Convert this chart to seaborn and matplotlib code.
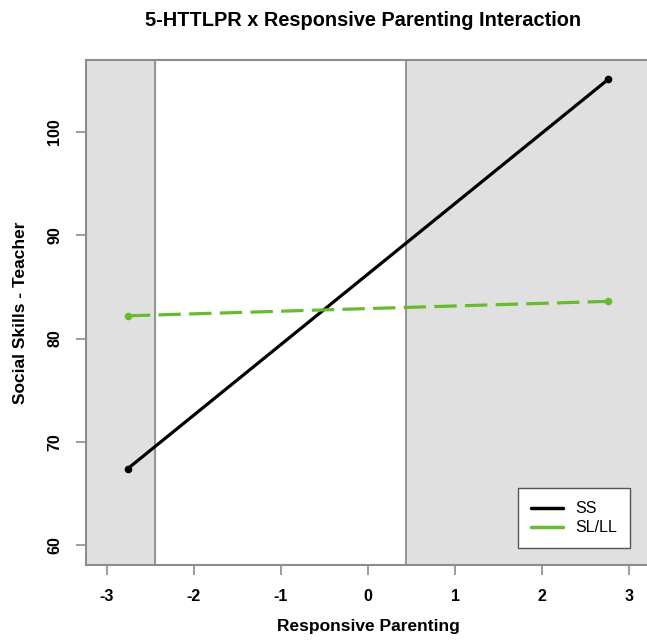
import pandas as pd
import matplotlib
matplotlib.use("Agg")
import matplotlib.pyplot as plt
import seaborn as sns
from matplotlib.lines import Line2D

# Dados
parenting = [-2.76, 2.76]
ss_vals = [67.4, 105.1]
sl_vals = [82.2, 83.6]
grupos = ["SS", "SL/LL"]
cores = {"SS": "#000000", "SL/LL": "#66BB2E"}
regiao_esq = -2.45   # limite da região sombreada à esquerda
regiao_dir = 0.44    # limite da região sombreada à direita
xticks = [-3, -2, -1, 0, 1, 2, 3]
yticks = [60, 70, 80, 90, 100]

dados = pd.DataFrame({
    "Responsive Parenting": parenting * 2,
    "Social Skills": ss_vals + sl_vals,
    "Genotipo": ["SS"] * 2 + ["SL/LL"] * 2,
})

sns.set_style("white")
plt.rcParams["font.family"] = ["Liberation Sans", "DejaVu Sans"]
plt.rcParams["text.color"] = "black"
plt.rcParams["axes.labelcolor"] = "black"

fig = plt.figure(figsize=(6.47, 6.42), dpi=100)
ax = fig.add_axes([86 / 647, 77 / 642, 564 / 647, 505 / 642])

xmin, xmax = -3.241, 3.241
ymin, ymax = 58.06, 106.98

# Regiões sombreadas
ax.axvspan(xmin, regiao_esq, color="#E0E0E0", zorder=0)
ax.axvspan(regiao_dir, xmax, color="#E0E0E0", zorder=0)
ax.axvline(regiao_esq, color="#8C8C8C", lw=1.3, zorder=1)
ax.axvline(regiao_dir, color="#8C8C8C", lw=1.3, zorder=1)

sns.lineplot(data=dados, x="Responsive Parenting", y="Social Skills",
             hue="Genotipo", style="Genotipo", palette=cores,
             dashes={"SS": "", "SL/LL": (7, 2.6)},
             markers={"SS": "o", "SL/LL": "o"}, markersize=5.5,
             markeredgewidth=0, lw=2.3, legend=False, ax=ax, zorder=3)

ax.set_xlim(xmin, xmax)
ax.set_ylim(ymin, ymax)
ax.set_xticks(xticks)
ax.set_yticks(yticks)
ax.set_xticklabels([str(t) for t in xticks], fontweight="bold", fontsize=11.5)
ax.set_yticklabels([str(t) for t in yticks], fontweight="bold", fontsize=11.5,
                   rotation=90, va="center")
ax.tick_params(axis="both", direction="out", length=7, width=1.2,
               color="#8C8C8C", labelcolor="black", pad=10, bottom=True, left=True)
for s in ax.spines.values():
    s.set_color("#8C8C8C")
    s.set_linewidth(1.5)

ax.set_xlabel("Responsive Parenting", fontweight="bold", fontsize=12.5, labelpad=11)
ax.set_ylabel("Social Skills - Teacher", fontweight="bold", fontsize=12.5, labelpad=14)
fig.suptitle("5-HTTLPR x Responsive Parenting Interaction", fontweight="bold",
             fontsize=14.4, x=363 / 647, y=1 - 11 / 642, va="top")

handles = [Line2D([], [], color=cores[g], lw=2.5) for g in grupos]
leg = ax.legend(handles, grupos, loc="lower right", fontsize=11.5,
                bbox_to_anchor=(630 / 647, 94 / 642), bbox_transform=fig.transFigure,
                borderaxespad=0, fancybox=False, framealpha=1, edgecolor="#555555",
                handlelength=2.0, handletextpad=0.8, borderpad=0.8, labelspacing=0.25)
leg.get_frame().set_linewidth(1.0)

fig.savefig("out.png", dpi=100)
